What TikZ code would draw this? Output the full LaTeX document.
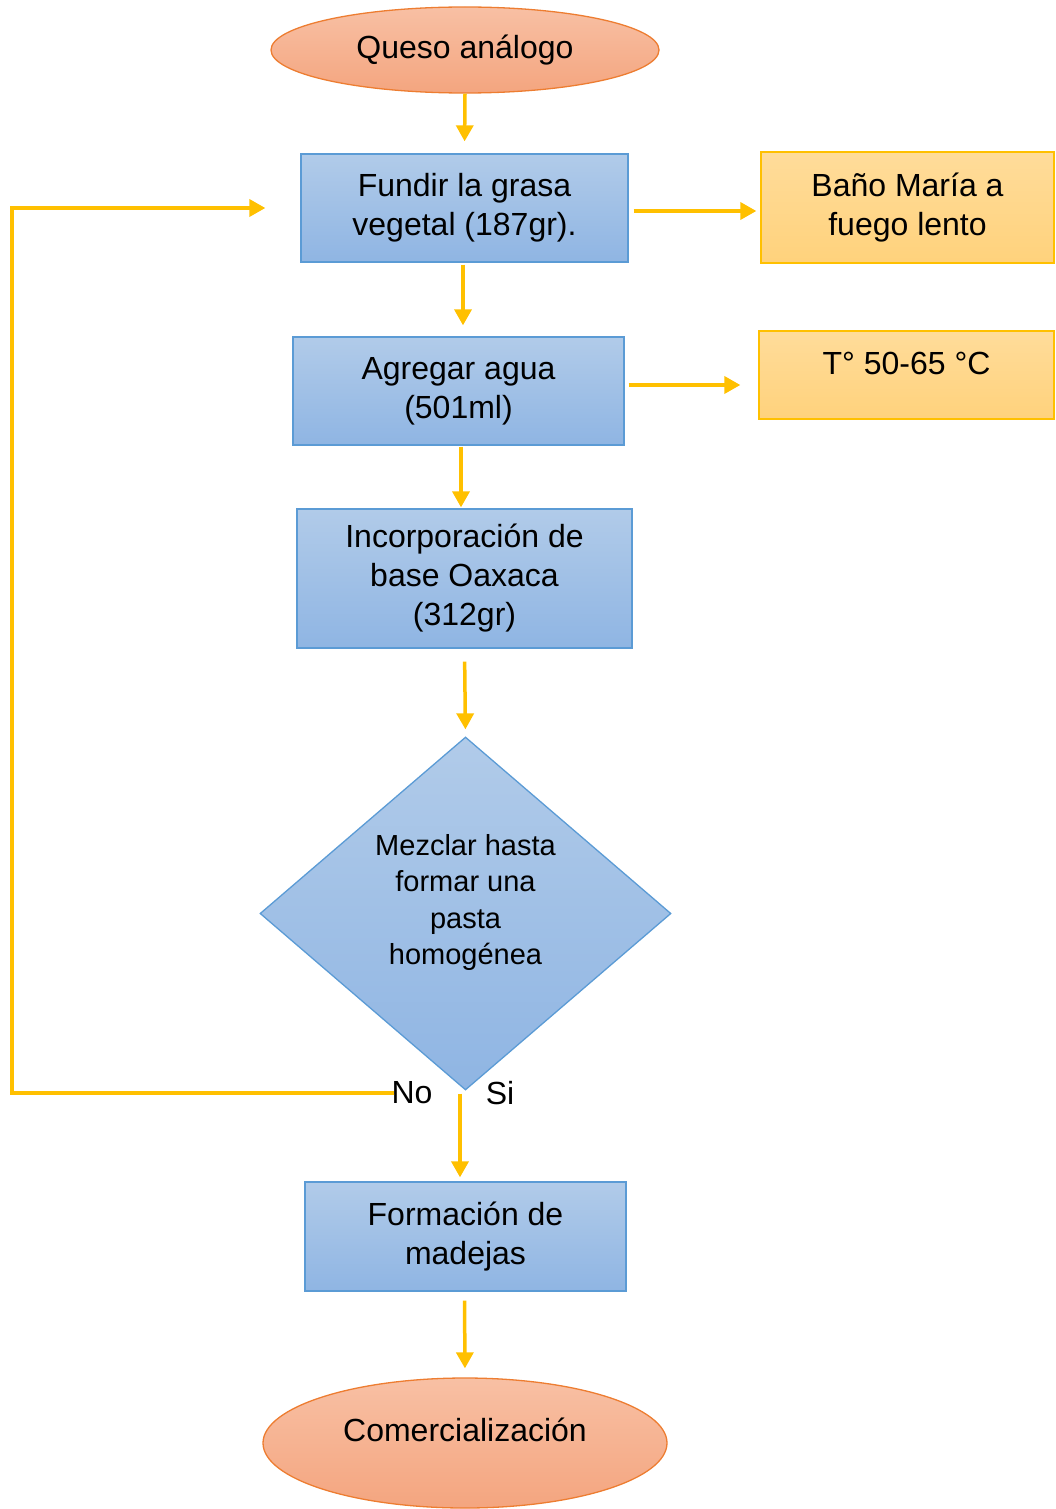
\documentclass[tikz,border=0pt]{standalone}
\usepackage{fontspec}
\setmainfont{Liberation Sans}
\usetikzlibrary{shapes.geometric,arrows.meta}
\definecolor{arr}{HTML}{FFC000}
\definecolor{bluetop}{HTML}{B1CBE9}
\definecolor{bluebot}{HTML}{8FB5E3}
\definecolor{blueline}{HTML}{5B9BD5}
\definecolor{orgtop}{HTML}{F8C0A4}
\definecolor{orgbot}{HTML}{F4A57F}
\definecolor{orgline}{HTML}{ED7D31}
\definecolor{yeltop}{HTML}{FFDC9A}
\definecolor{yelbot}{HTML}{FFD27C}
\begin{document}
\begin{tikzpicture}[x=1pt,y=-1pt,
  bigfont/.style={font=\fontsize{32}{39}\selectfont},
  bluebox/.style={rectangle, draw=blueline, line width=1.3pt, top color=bluetop, bottom color=bluebot, inner sep=0pt, align=center, bigfont},
  yelbox/.style={rectangle, draw=arr, line width=1.3pt, top color=yeltop, bottom color=yelbot, inner sep=0pt, align=center, bigfont},
  oval/.style={ellipse, draw=orgline, line width=1.3pt, top color=orgtop, bottom color=orgbot, inner sep=0pt, align=center, bigfont},
  decision/.style={diamond, draw=blueline, line width=1.3pt, top color=bluetop, bottom color=bluebot, inner sep=0pt, align=center, font=\fontsize{29}{36.5}\selectfont},
  flow/.style={draw=arr, line width=3.5pt, -{Triangle[length=16pt,width=17pt]}},
  lbl/.style={inner sep=0pt, bigfont}
]
\useasboundingbox (0,0) rectangle (1055,1509);

\node[oval, minimum width=388pt, minimum height=86pt] (e1) at (465,50) {Queso análogo};
\node[bluebox, minimum width=327pt, minimum height=108pt] (b1) at (464.5,208) {Fundir la grasa\\vegetal (187gr).};
\node[yelbox, minimum width=293pt, minimum height=111pt] (r1) at (907.5,207.5) {Baño María a\\fuego lento};
\node[bluebox, minimum width=331pt, minimum height=108pt] (b2) at (458.5,391) {Agregar agua\\(501ml)};
\node[yelbox, minimum width=295pt, minimum height=88pt, text depth=24pt] (r2) at (906.5,375) {T° 50-65 °C};
\node[bluebox, minimum width=335pt, minimum height=139pt] (b3) at (464.5,578.5) {Incorporación de\\base Oaxaca\\(312gr)};
\node[decision, minimum width=411pt, minimum height=353pt, text depth=28pt] (d) at (465.5,913.5) {Mezclar hasta\\formar una\\pasta\\homogénea};
\node[bluebox, minimum width=321pt, minimum height=109pt] (b4) at (465.5,1236.5) {Formación de\\madejas};
\node[oval, minimum width=404pt, minimum height=130pt, text depth=26pt] (e2) at (465,1443) {Comercialización};

\node[lbl] (no) at (412,1093) {No};
\node[lbl] (si) at (500,1093) {Si};

\draw[flow, shorten >=12pt] (e1.south) -- (b1.north);
\draw[flow, shorten <=2pt, shorten >=11pt] ([xshift=-1.5pt]b1.south) -- ([xshift=-1.5pt]b2.north -| b1.south);
\draw[flow, shorten <=1pt, shorten >=1pt] ([xshift=2.5pt]b2.south) -- ([xshift=2.5pt]b3.north -| b2.south);
\draw[flow, shorten <=13pt, shorten >=7pt] (b3.south) -- (d.north);
\draw[flow, shorten <=3pt, shorten >=4pt] ([xshift=-5.5pt]d.south) -- ([xshift=-5.5pt]b4.north -| d.south);
\draw[flow, shorten <=9pt, shorten >=9pt] ([xshift=-1pt]b4.south) -- (e2.north);
\draw[flow, shorten <=5pt, shorten >=4pt] ([yshift=-3pt]b1.east) -- ([yshift=-3pt]b1.east -| r1.west);
\draw[flow, shorten <=4pt, shorten >=18pt] ([yshift=6pt]b2.east) -- ([yshift=6pt]b2.east -| r2.west);

\coordinate (lc1) at (12,1093);
\coordinate (lc2) at (12,208);
\draw[flow, line join=miter] ([xshift=3pt]no.west) -- (lc1) -- (lc2) -- ([xshift=-35pt]b1.west);
\end{tikzpicture}
\end{document}
